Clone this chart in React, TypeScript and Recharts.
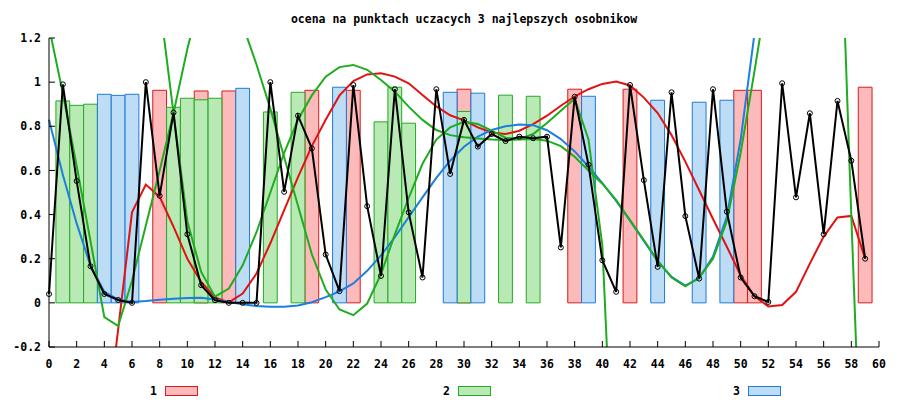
import { ComposedChart, Bar, Line, XAxis, YAxis } from "recharts";

const TITLE = "ocena na punktach uczacych 3 najlepszych osobnikow";
const FONT = '"DejaVu Sans Mono", monospace';

// training point index
const xs = [
  0, 1, 2, 3, 4, 5, 6, 7, 8, 9, 10, 11, 12, 13, 14, 15, 16, 17, 18, 19,
  20, 21, 22, 23, 24, 25, 26, 27, 28, 29, 30, 31, 32, 33, 34, 35, 36, 37, 38, 39,
  40, 41, 42, 43, 44, 45, 46, 47, 48, 49, 50, 51, 52, 53, 54, 55, 56, 57, 58, 59,
];

// training values (black line with points)
const target = [
  0.04, 0.99, 0.552, 0.166, 0.04, 0.013, 0.0, 1.0, 0.485, 0.862,
  0.311, 0.08, 0.012, 0.0, 0.0, 0.0, 1.0, 0.503, 0.848, 0.7,
  0.219, 0.053, 0.987, 0.438, 0.122, 0.968, 0.41, 0.115, 0.968, 0.584,
  0.829, 0.708, 0.765, 0.733, 0.753, 0.746, 0.753, 0.251, 0.934, 0.626,
  0.193, 0.05, 0.987, 0.556, 0.163, 0.954, 0.393, 0.11, 0.968, 0.413,
  0.115, 0.03, 0.004, 0.995, 0.478, 0.859, 0.311, 0.915, 0.644, 0.2,
];

// curves of the three individuals (null = far outside the plot)
const curveRed = [
  null, null, null, null, -0.64, -0.12, 0.41, 0.536, 0.48, 0.345,
  0.2, 0.095, 0.025, 0.002, 0.042, 0.133, 0.27, 0.42, 0.57, 0.71,
  0.83, 0.94, 1.005, 1.035, 1.04, 1.025, 0.995, 0.942, 0.89, 0.85,
  0.827, 0.795, 0.772, 0.765, 0.78, 0.81, 0.848, 0.893, 0.935, 0.968,
  0.992, 1.003, 0.985, 0.93, 0.86, 0.76, 0.64, 0.51, 0.38, 0.254,
  0.125, 0.03, -0.016, -0.01, 0.05, 0.178, 0.3, 0.387, 0.394, 0.2,
];
const curveGreenA = [
  1.25, 0.95, 0.62, 0.28, -0.065, -0.105, 0.1, 0.35, 0.6, 0.86,
  1.15, 1.4, null, null, 1.26, 1.08, 0.88, 0.66, 0.44, 0.22,
  0.06, -0.03, -0.056, -0.003, 0.13, 0.31, 0.475, 0.63, 0.74, 0.795,
  0.82, 0.81, 0.78, 0.748, 0.742, 0.765, 0.815, 0.87, 0.925, 0.74,
  0.26, -1.14, null, null, null, null, null, null, null, null,
  null, null, null, null, null, null, null, null, null, null,
];
const curveGreenB = [
  null, null, null, null, null, null, null, null, 1.36, 0.86,
  0.37, 0.14, 0.028, 0.065, 0.17, 0.32, 0.5, 0.68, 0.83, 0.94,
  1.025, 1.068, 1.078, 1.056, 1.01, 0.957, 0.889, 0.829, 0.783, 0.76,
  0.75, 0.745, 0.74, 0.738, 0.74, 0.742, 0.735, 0.71, 0.662, 0.6,
  0.54, 0.465, 0.375, 0.285, 0.19, 0.115, 0.075, 0.115, 0.2, 0.37,
  0.68, 1.05, 1.44, null, null, null, null, 2.19, 0.39, -1.3,
];
const curveBlue = [
  0.83, 0.58, 0.36, 0.168, 0.05, 0.015, 0.004, 0.008, 0.014, 0.019,
  0.022, 0.023, 0.015, 0.004, -0.006, -0.014, -0.018, -0.018, -0.012, 0.003,
  0.026, 0.052, 0.088, 0.145, 0.215, 0.298, 0.388, 0.478, 0.566, 0.644,
  0.707, 0.753, 0.783, 0.8, 0.808, 0.805, 0.782, 0.742, 0.686, 0.618,
  0.543, 0.462, 0.372, 0.28, 0.19, 0.118, 0.078, 0.112, 0.21, 0.39,
  0.74, 1.22, 1.95, null, null, null, null, null, null, null,
];

// bars: where each individual is shown, and its height
const bar1X = [8, 11, 13, 19, 22, 30, 38, 42, 50, 51, 59];
const bar1H = [0.963, 0.96, 0.96, 0.963, 0.963, 0.968, 0.968, 0.968, 0.963, 0.963, 0.977];
const bar2X = [1, 2, 3, 9, 10, 11, 12, 16, 18, 24, 25, 26, 30, 33, 35];
const bar2H = [0.915, 0.895, 0.9, 0.886, 0.927, 0.92, 0.927, 0.865, 0.954, 0.82, 0.977, 0.814, 0.867, 0.941, 0.936];
const bar3X = [4, 5, 6, 14, 21, 29, 31, 39, 44, 47, 49];
const bar3H = [0.945, 0.94, 0.945, 0.972, 0.977, 0.954, 0.95, 0.936, 0.918, 0.909, 0.918];

const xTicks = [0, 2, 4, 6, 8, 10, 12, 14, 16, 18, 20, 22, 24, 26, 28, 30, 32, 34, 36, 38, 40, 42, 44, 46, 48, 50, 52, 54, 56, 58, 60];
const yTicks = [-0.2, 0, 0.2, 0.4, 0.6, 0.8, 1, 1.2];

const legendNames = ["1", "2", "3"];
const barFill = ["#fdbaba", "#b9e9b5", "#bddcf5"];
const barStroke = ["#d81c1c", "#24aa24", "#1f7ad8"];
const legendLeft = [150, 443, 733];

const pick = (px: number[], ph: number[], x: number) => {
  const i = px.indexOf(x);
  return i < 0 ? null : ph[i];
};

const rows = xs.map((x, i) => ({
  x,
  target: target[i],
  red: curveRed[i],
  greenA: curveGreenA[i],
  greenB: curveGreenB[i],
  blue: curveBlue[i],
  b1: pick(bar1X, bar1H, x),
  b2: pick(bar2X, bar2H, x),
  b3: pick(bar3X, bar3H, x),
}));

const tickFont = { fill: "#000", fontSize: 11.5, fontFamily: FONT, fontWeight: "bold" };
const blank = () => "";

export default function App() {
  return (
    <div style={{ position: "absolute", left: 0, top: 0, width: 900, height: 400, background: "#fff" }}>
      <div
        style={{
          position: "absolute",
          left: 49,
          top: 12,
          width: 830,
          textAlign: "center",
          fontFamily: FONT,
          fontSize: 11.5,
          fontWeight: "bold",
          lineHeight: "14px",
          color: "#000",
        }}
      >
        {TITLE}
      </div>
      <ComposedChart width={900} height={400} data={rows} margin={{ top: 38, right: 21, bottom: 33, left: 0 }}>
        <XAxis
          dataKey="x"
          type="number"
          domain={[0, 60]}
          ticks={xTicks}
          interval={0}
          height={20}
          tickSize={-6}
          tickMargin={19}
          axisLine={{ stroke: "#000" }}
          tickLine={{ stroke: "#000" }}
          tick={tickFont}
        />
        <XAxis
          xAxisId="top"
          orientation="top"
          dataKey="x"
          type="number"
          domain={[0, 60]}
          ticks={xTicks}
          interval={0}
          height={0}
          tickSize={-6}
          tickFormatter={blank}
          axisLine={{ stroke: "#000" }}
          tickLine={{ stroke: "#000" }}
        />
        <XAxis xAxisId="s1" dataKey="x" type="number" domain={[0, 60]} hide />
        <XAxis xAxisId="s2" dataKey="x" type="number" domain={[0, 60]} hide />
        <XAxis xAxisId="s3" dataKey="x" type="number" domain={[0, 60]} hide />
        <YAxis
          domain={[-0.2, 1.2]}
          ticks={yTicks}
          interval={0}
          allowDataOverflow
          width={49}
          tickSize={-6}
          tickMargin={14}
          tickFormatter={(v: number) => String(v)}
          axisLine={{ stroke: "#000" }}
          tickLine={{ stroke: "#000" }}
          tick={tickFont}
        />
        <YAxis
          yAxisId="right"
          orientation="right"
          domain={[-0.2, 1.2]}
          ticks={yTicks}
          interval={0}
          allowDataOverflow
          width={0}
          tickSize={-6}
          tickFormatter={blank}
          axisLine={{ stroke: "#000" }}
          tickLine={{ stroke: "#000" }}
        />

        <Bar xAxisId="s1" dataKey="b1" barSize={13.8} fill={barFill[0]} stroke={barStroke[0]} isAnimationActive={false} />
        <Bar xAxisId="s2" dataKey="b2" barSize={13.8} fill={barFill[1]} stroke={barStroke[1]} isAnimationActive={false} />
        <Bar xAxisId="s3" dataKey="b3" barSize={13.8} fill={barFill[2]} stroke={barStroke[2]} isAnimationActive={false} />

        <Line dataKey="red" type="linear" stroke="#e01212" strokeWidth={2} dot={false} isAnimationActive={false} />
        <Line dataKey="blue" type="linear" stroke="#1c7fe0" strokeWidth={2} dot={false} isAnimationActive={false} />
        <Line dataKey="greenA" type="linear" stroke="#1fac1f" strokeWidth={2} dot={false} isAnimationActive={false} />
        <Line dataKey="greenB" type="linear" stroke="#1fac1f" strokeWidth={2} dot={false} isAnimationActive={false} />
        <Line
          dataKey="target"
          type="linear"
          stroke="#000"
          strokeWidth={2}
          dot={{ r: 2.5, stroke: "#000", strokeWidth: 1, fill: "none" }}
          isAnimationActive={false}
        />
      </ComposedChart>
      {legendNames.map((name, i) => (
        <div
          key={name}
          style={{
            position: "absolute",
            left: legendLeft[i],
            top: 385,
            height: 12,
            display: "flex",
            alignItems: "center",
            fontFamily: FONT,
            fontSize: 11.5,
            fontWeight: "bold",
            color: "#000",
          }}
        >
          <span style={{ marginRight: 8 }}>{name}</span>
          <span
            style={{
              display: "inline-block",
              width: 31,
              height: 8,
              background: barFill[i],
              border: `1px solid ${barStroke[i]}`,
            }}
          />
        </div>
      ))}
    </div>
  );
}
